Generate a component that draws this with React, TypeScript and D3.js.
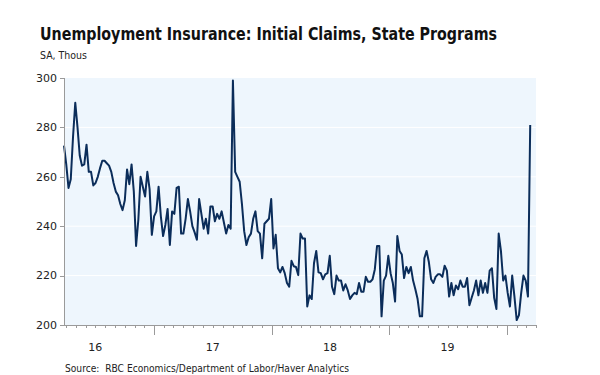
import React from "react";
import * as d3 from "d3";

const title = "Unemployment Insurance: Initial Claims, State Programs";
const subtitle = "SA, Thous";
const source = "Source:  RBC Economics/Department of Labor/Haver Analytics";

// weekly observations, first week ending 2016-03-26
const firstWeek = "2016-03-26";
const claims = [
  272.6, 265, 255.5, 259, 276, 290, 280, 268.5, 264.5, 265,
  273, 262, 262, 256.5, 257.5, 260, 263.5, 266.5, 266.5, 265.5,
  264.5, 262, 257.5, 254, 252.5, 249, 246.5, 250.5, 263, 257,
  265, 254, 232, 242.5, 260, 256, 252, 262, 255, 236.5,
  244, 246, 256, 244, 236, 240.5, 247, 232.4, 246, 245,
  255.5, 256, 237, 237, 243, 251, 246, 240, 237.5, 234.5,
  251, 245, 239, 243, 237, 248, 248, 242, 245, 243,
  246, 241.5, 237, 240.5, 239, 299, 262, 260, 258, 249,
  238, 232.4, 235.5, 237, 243, 246, 238, 237, 227, 241,
  242, 243, 251, 231, 236.5, 223, 221.3, 223.5, 221, 217,
  215.5, 226, 223.8, 223.5, 220.2, 237, 235, 235, 207.5, 212,
  210.5, 225, 230, 221.3, 221, 218.5, 220.5, 221, 228, 215.5,
  212.5, 220, 218, 218, 214, 216.5, 214, 210.5, 212, 213,
  212.5, 217, 213.5, 213.5, 219.5, 217.5, 217.5, 218.5, 222.5, 232,
  232, 203.5, 218, 220, 228, 221, 217, 209.5, 236, 230,
  228.5, 219, 223.5, 221, 223.5, 218, 214.5, 210.5, 203.5, 203.5,
  227, 230, 225.5, 218.5, 217, 219.5, 220.5, 220.5, 219.5, 224,
  222, 211.5, 217, 212, 216, 214.5, 218, 215.5, 215.5, 219,
  208, 211, 214, 218, 212, 218, 213, 217, 213, 222,
  223, 211, 206.5, 237, 230, 218, 220, 213, 207.5, 220,
  211.5, 202, 204, 213, 220, 218, 211.5, 281,
];

const yTicks = [200, 220, 240, 260, 280, 300];
const yearLabels = ["16", "17", "18", "19"];
const yearNumbers = [2016, 2017, 2018, 2019];
const axisStart = "2016-03-26";
const axisEnd = "2020-04-01";

const FONT = "'DejaVu Sans', sans-serif";

export default function App() {
  const W = 600;
  const H = 375;
  const m = { left: 64, right: 536, top: 78, bottom: 325 };
  const parse = d3.utcParse("%Y-%m-%d");
  const x = d3
    .scaleUtc()
    .domain([parse(axisStart) as Date, parse(axisEnd) as Date])
    .range([m.left, m.right]);
  const y = d3.scaleLinear().domain([200, 300]).range([m.bottom, m.top]);
  const start = parse(firstWeek) as Date;
  const pts: [Date, number][] = claims.map((v, i) => [d3.utcWeek.offset(start, i), v]);
  const line = d3
    .line<[Date, number]>()
    .x((d) => x(d[0]))
    .y((d) => y(d[1]));
  const months = x.ticks(d3.utcMonth.every(1) as any);
  const axisColor = "#9a9a9a";

  return (
    <svg
      width={W}
      height={H}
      viewBox={`0 0 ${W} ${H}`}
      style={{ position: "absolute", left: 0, top: 0, background: "#ffffff" }}
    >
      <text
        x={40}
        y={40}
        fontFamily={FONT}
        fontWeight="bold"
        fontSize={17}
        fill="#111"
        textLength={457}
        lengthAdjust="spacingAndGlyphs"
      >
        {title}
      </text>
      <text x={40} y={59} fontFamily={FONT} fontSize={11} fill="#222" textLength={47} lengthAdjust="spacingAndGlyphs">
        {subtitle}
      </text>

      <rect x={m.left} y={m.top} width={m.right - m.left} height={m.bottom - m.top} fill="#eef6fd" />
      {yTicks.slice(1, -1).map((t) => (
        <line key={t} x1={m.left} x2={m.right} y1={y(t)} y2={y(t)} stroke="#ffffff" strokeWidth={1} />
      ))}

      <path d={line(pts) ?? ""} fill="none" stroke="#0b2d5a" strokeWidth={2} strokeLinejoin="round" />

      <line x1={m.left + 0.5} x2={m.left + 0.5} y1={m.top} y2={m.bottom} stroke={axisColor} />
      <line x1={m.left} x2={m.right} y1={m.bottom + 0.5} y2={m.bottom + 0.5} stroke={axisColor} />
      {yTicks.map((t) => (
        <g key={t}>
          <line x1={m.left - 4} x2={m.left} y1={Math.round(y(t)) + 0.5} y2={Math.round(y(t)) + 0.5} stroke={axisColor} />
          <text
            x={m.left - 7}
            y={y(t)}
            dy="0.35em"
            textAnchor="end"
            fontFamily={FONT}
            fontSize={11}
            fill="#222"
          >
            {t}
          </text>
        </g>
      ))}
      {months.map((d) => {
        const major = d.getUTCMonth() === 0;
        const px = Math.round(x(d)) + 0.5;
        return (
          <line
            key={+d}
            x1={px}
            x2={px}
            y1={m.bottom}
            y2={m.bottom + (major ? 10 : 3)}
            stroke={axisColor}
          />
        );
      })}
      {yearLabels.map((lab, i) => (
        <text
          key={lab}
          x={x(new Date(Date.UTC(yearNumbers[i], 6, 1)))}
          y={351}
          textAnchor="middle"
          fontFamily={FONT}
          fontSize={11}
          fill="#222"
        >
          {lab}
        </text>
      ))}
      <text
        x={65}
        y={372}
        fontFamily={FONT}
        fontSize={10.5}
        fill="#222"
        textLength={284}
        lengthAdjust="spacingAndGlyphs"
        style={{ whiteSpace: "pre" }}
      >
        {source}
      </text>
    </svg>
  );
}
